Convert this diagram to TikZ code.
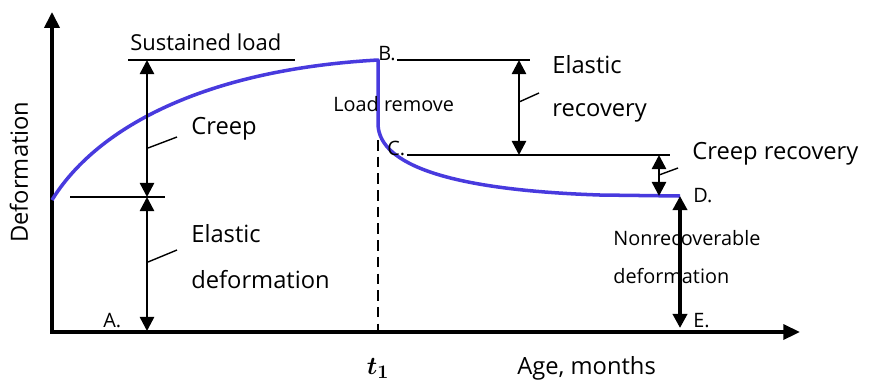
\documentclass[tikz,border=0pt]{standalone}
\usepackage{fontspec}
\setmainfont{Open Sans}
\usepackage{bm}
\usetikzlibrary{arrows.meta}
\definecolor{curveblue}{RGB}{72,58,222}

\tikzset{
  axisline/.style={line width=2pt, {Triangle[length=9pt,width=8.5pt]}-{Triangle[length=9.5pt,width=8.5pt]}},
  dimarrow/.style={line width=1.4pt, {Triangle[length=8pt,width=8pt]}-{Triangle[length=8pt,width=8pt]}},
  guide/.style={line width=0.9pt},
  pointer/.style={line width=0.8pt},
  bluecurve/.style={line width=2pt, curveblue, line join=round},
  biglabel/.style={font=\fontsize{13.5}{16}\selectfont, inner sep=0pt, anchor=base west},
  loadlabel/.style={font=\fontsize{12.5}{15}\selectfont, inner sep=0pt, anchor=base west},
  smalllabel/.style={font=\fontsize{11.3}{13}\selectfont, inner sep=0pt, anchor=base west},
}

\begin{document}
\begin{tikzpicture}[x=0.02cm,y=-0.02cm]
\useasboundingbox (0,0) rectangle (871,380);

% axes
\coordinate (ytop) at (52,12);
\coordinate (O) at (52,332);
\coordinate (xend) at (800,332);
\draw[axisline] (ytop) -- (O) -- (xend);

\node[biglabel, rotate=90] (ylab) at (28,243) {Deformation};
\node[biglabel] (xlab) at (517,374) {Age, months};
\node[font=\fontsize{15}{17}\selectfont, inner sep=0pt, anchor=north] (tone) at (378,358) {$\bm{t_1}$};

% deformation curve
\coordinate (start) at (52,200);
\coordinate (B) at (378,60);
\coordinate (knee) at (378,125);
\coordinate (flat) at (600,195);
\coordinate (D) at (680,196);
\draw[bluecurve] (start) .. controls (95,130) and (200,70) .. (B) -- (knee)
  .. controls (380,165) and (450,190) .. (flat) -- (D);

% load removal time
\coordinate (dtop) at (378,140);
\coordinate (dbot) at (378,330);
\draw[line width=1.1pt, dash pattern=on 6pt off 3.5pt] (dtop) -- (dbot);

% levels
\coordinate (sl1) at (128,60);
\coordinate (sl2) at (295,60);
\coordinate (el1) at (70,197);
\coordinate (el2) at (165,197);
\coordinate (bl1) at (397,60);
\coordinate (bl2) at (530,60);
\coordinate (cl1) at (407,155);
\coordinate (cl2) at (670,155);
\draw[guide] (sl1) -- (sl2);
\draw[guide] (el1) -- (el2);
\draw[guide] (bl1) -- (bl2);
\draw[guide] (cl1) -- (cl2);

% dimension arrows
\coordinate (crtop) at (147,60);
\coordinate (crbot) at (147,197);
\coordinate (edbot) at (147,331);
\coordinate (ertop) at (519,60);
\coordinate (erbot) at (519,155);
\coordinate (cvtop) at (659,155);
\coordinate (cvbot) at (659,196);
\coordinate (nrbot) at (680,328);
\draw[dimarrow] (crtop) -- (crbot);
\draw[dimarrow] (crbot) -- (edbot);
\draw[dimarrow] (ertop) -- (erbot);
\draw[dimarrow] (cvtop) -- (cvbot);
\draw[dimarrow, line width=2.1pt] (D) -- (nrbot);

% pointers to labels
\coordinate (p1a) at (148,148);
\coordinate (p1b) at (177,137);
\coordinate (p2a) at (148,262);
\coordinate (p2b) at (177,250);
\coordinate (p3a) at (519,102);
\coordinate (p3b) at (539,93);
\coordinate (p4a) at (659,175);
\coordinate (p4b) at (678,168);
\draw[pointer] (p1a) -- (p1b);
\draw[pointer] (p2a) -- (p2b);
\draw[pointer] (p3a) -- (p3b);
\draw[pointer] (p4a) -- (p4b);

% labels
\node[loadlabel] (sload) at (130,50) {Sustained load};
\node[biglabel] (creep) at (191,134) {Creep};
\node[biglabel] (edef1) at (191,242) {Elastic};
\node[biglabel] (edef2) at (191,288) {deformation};
\node[smalllabel] (lrem) at (333,111) {Load remove};
\node[biglabel] (erec1) at (552,73) {Elastic};
\node[biglabel] (erec2) at (552,116) {recovery};
\node[biglabel] (crec) at (692,159) {Creep recovery};
\node[smalllabel] (nrec1) at (613,245) {Nonrecoverable};
\node[smalllabel] (nrec2) at (613,283) {deformation};

\node[smalllabel] (Alab) at (103,327) {A.};
\node[smalllabel] (Blab) at (378,60) {B.};
\node[smalllabel] (Clab) at (387,155) {C.};
\node[smalllabel] (Dlab) at (693,202) {D.};
\node[smalllabel] (Elab) at (693,327) {E.};

\end{tikzpicture}
\end{document}
